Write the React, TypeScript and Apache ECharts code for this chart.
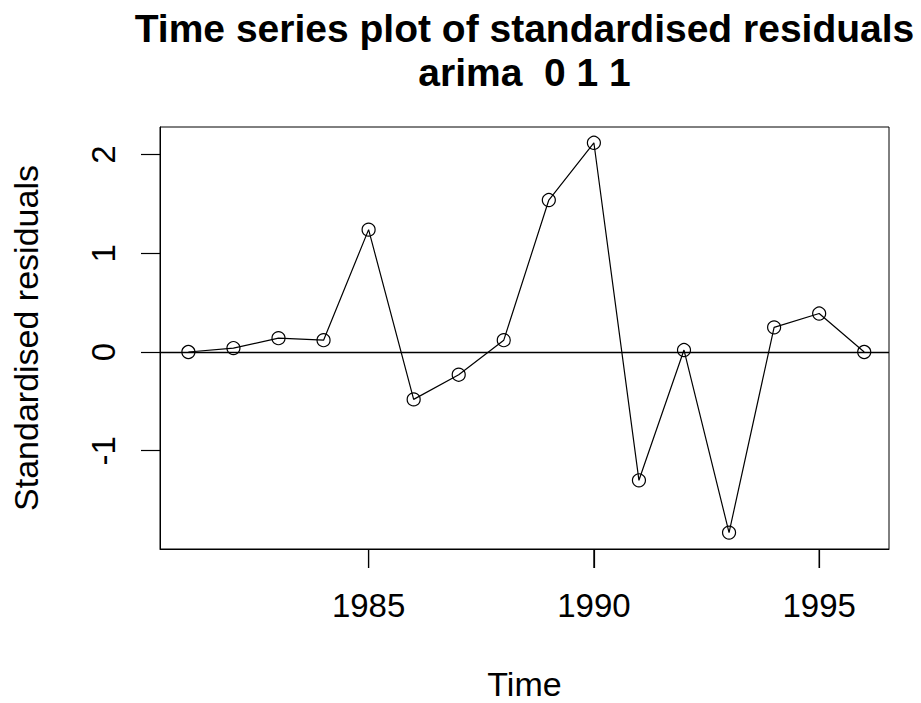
import React, { useEffect, useRef } from "react";
import * as echarts from "echarts";

// Standardised residuals from an ARIMA(0,1,1) fit, one per year
const years = [1981, 1982, 1983, 1984, 1985, 1986, 1987, 1988, 1989, 1990, 1991, 1992, 1993, 1994, 1995, 1996];
const residuals = [0.0, 0.04, 0.14, 0.12, 1.24, -0.48, -0.23, 0.12, 1.54, 2.12, -1.3, 0.02, -1.83, 0.25, 0.39, 0.0];

const xTicks = [1985, 1990, 1995];
const yTicks = [-1, 0, 1, 2];

const titleLines = ["Time series plot of standardised residuals", "arima  0 1 1"];
const xName = "Time";
const yName = "Standardised residuals";

const FONT = "'Liberation Sans', Arial, Helvetica, sans-serif";

const X_MIN = 1980.37;
const X_MAX = 1996.55;
const Y_MIN = -1.996;
const Y_MAX = 2.28;
const TICK_LEN = 19;

export default function App() {
  const ref = useRef<HTMLDivElement>(null);

  useEffect(() => {
    if (!ref.current) return;
    const chart = echarts.init(ref.current, null, { renderer: "svg" });

    const points = years.map((y, i) => [y, residuals[i]]);
    const plotLeft = 160;
    const plotRight = 889;
    const plotCenter = (plotLeft + plotRight) / 2;

    const titleEls = titleLines.map((line, i) => ({
      type: "text",
      id: `title-${i}`,
      x: plotCenter,
      y: 28 + i * 44,
      style: {
        text: line,
        fill: "#000000",
        font: `bold 39px ${FONT}`,
        textAlign: "center",
        textVerticalAlign: "middle",
      },
    }));

    chart.setOption({
      animation: false,
      grid: {
        left: plotLeft,
        right: 921 - plotRight,
        top: 127,
        bottom: 154,
        show: true,
        borderColor: "#000000",
        borderWidth: 1,
        outerBoundsMode: "none",
      },
      graphic: titleEls,
      xAxis: {
        type: "value",
        min: X_MIN,
        max: X_MAX,
        name: xName,
        nameLocation: "middle",
        nameGap: 118,
        nameTextStyle: { fontSize: 34, color: "#000000", fontFamily: FONT },
        axisLine: { show: true, onZero: false, lineStyle: { color: "#000000", width: 1 } },
        splitLine: { show: false },
        axisTick: { show: true, length: TICK_LEN, customValues: xTicks, lineStyle: { color: "#000000", width: 1.2 } },
        axisLabel: {
          customValues: xTicks,
          formatter: (v: number) => String(v),
          fontSize: 33,
          margin: 40,
          color: "#000000",
          fontFamily: FONT,
        },
      },
      yAxis: {
        type: "value",
        min: Y_MIN,
        max: Y_MAX,
        name: yName,
        nameLocation: "middle",
        nameGap: 117,
        nameRotate: 90,
        nameTextStyle: { fontSize: 34, color: "#000000", fontFamily: FONT },
        splitLine: { show: false },
        axisLine: { show: true, onZero: false, lineStyle: { color: "#000000", width: 1 } },
        axisTick: { show: true, length: TICK_LEN, customValues: yTicks, lineStyle: { color: "#000000", width: 1.2 } },
        axisLabel: {
          customValues: yTicks,
          formatter: (v: number) => String(v),
          rotate: 90,
          fontSize: 33,
          margin: 40,
          color: "#000000",
          fontFamily: FONT,
        },
      },
      series: [
        {
          type: "line",
          data: points,
          symbol: "circle",
          symbolSize: 13,
          showSymbol: true,
          lineStyle: { color: "#000000", width: 1.2 },
          itemStyle: { color: "rgba(0,0,0,0)", borderColor: "#000000", borderWidth: 1.2 },
          emphasis: { disabled: true },
          markLine: {
            silent: true,
            symbol: "none",
            label: { show: false },
            lineStyle: { color: "#000000", width: 1.3, type: "solid" },
            data: [{ yAxis: 0 }],
          },
        },
      ],
    });

    // Outward tick marks below the plot box, placed through the grid's own scales
    const tickEls = xTicks.map((v, i) => {
      const p = chart.convertToPixel({ gridIndex: 0 }, [v, Y_MIN]) as number[];
      return {
        type: "line",
        id: `xtick-${i}`,
        z: 100,
        shape: { x1: p[0], y1: p[1], x2: p[0], y2: p[1] + TICK_LEN },
        style: { stroke: "#000000", lineWidth: 1.2 },
      };
    });
    chart.setOption({ graphic: [...titleEls, ...tickEls] });

    return () => chart.dispose();
  }, []);

  return (
    <div
      ref={ref}
      style={{ position: "fixed", left: 0, top: 0, width: 921, height: 703, background: "#ffffff" }}
    />
  );
}
